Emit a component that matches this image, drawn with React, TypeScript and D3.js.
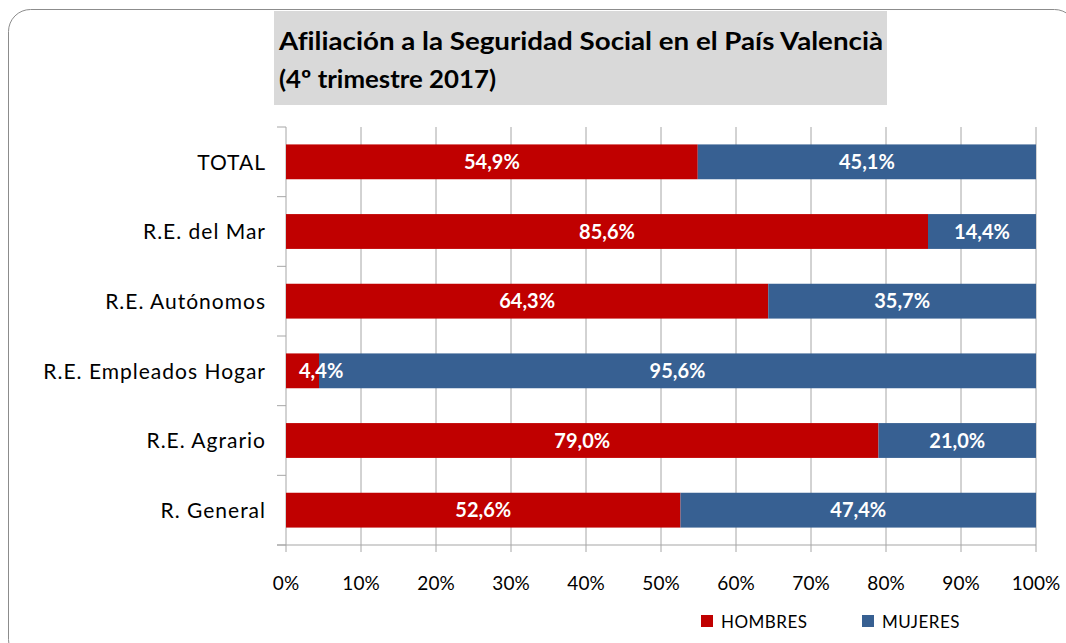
import React from "react";
import * as d3 from "d3";

const categories = ["TOTAL", "R.E. del Mar", "R.E. Autónomos", "R.E. Empleados Hogar", "R.E. Agrario", "R. General"];
const hombres = [54.9, 85.6, 64.3, 4.4, 79.0, 52.6];
const mujeres = [45.1, 14.4, 35.7, 95.6, 21.0, 47.4];
const xTicks = [0, 10, 20, 30, 40, 50, 60, 70, 80, 90, 100];
const seriesNames = ["HOMBRES", "MUJERES"];
const titleLines = ["Afiliación a la Seguridad Social en el País Valencià", "(4º trimestre 2017)"];

const RED = "#c00000";
const BLUE = "#376092";
const GRID = "#a6a6a6";
const FONT = "Lato, 'Open Sans', sans-serif";

const fmt = (v: number) => v.toFixed(1).replace(".", ",") + "%";

export default function App() {
  const W = 1066, H = 643;
  const left = 286, right = 1036, top = 127, bottom = 545;
  const x = d3.scaleLinear().domain([0, 100]).range([left, right]);
  const y = d3.scaleBand<string>().domain(categories).range([top, bottom]).paddingInner(0.5).paddingOuter(0.25);
  const step = y.step();
  const boundaries = d3.range(categories.length + 1).map((i) => top + i * step);
  const titleWidths = [604, 217];

  return (
    <svg width={W} height={H} style={{ position: "absolute", left: 0, top: 0, background: "#fff", fontVariantLigatures: "none" }}>
      <rect x={8.5} y={9.5} width={1068} height={652} rx={22} ry={22} fill="#fff" stroke="#8c8c8c" strokeWidth={1} />
      <rect x={274} y={11} width={613} height={94} fill="#d9d9d9" />
      {titleLines.map((t, i) => (
        <text key={i} x={279} y={50 + i * 38} fontFamily={FONT} fontWeight="bold" fontSize={25} fill="#000"
          textLength={titleWidths[i]} lengthAdjust="spacingAndGlyphs">{t}</text>
      ))}
      {/* gridlines */}
      {xTicks.map((t) => (
        <line key={t} x1={x(t)} x2={x(t)} y1={top} y2={bottom + 7} stroke={GRID} strokeWidth={1} />
      ))}
      {/* y axis ticks */}
      {boundaries.map((b, i) => (
        <line key={i} x1={left - 9} x2={left} y1={b} y2={b} stroke={GRID} strokeWidth={1} />
      ))}
      <line x1={left - 9} x2={right} y1={bottom} y2={bottom} stroke={GRID} strokeWidth={1.2} />
      {/* bars */}
      {categories.map((c, i) => {
        const y0 = y(c)!;
        const bw = y.bandwidth();
        const xh = x(hombres[i]);
        return (
          <g key={c}>
            <rect x={x(0)} y={y0} width={xh - x(0)} height={bw} fill={RED} />
            <rect x={xh} y={y0} width={x(100) - xh} height={bw} fill={BLUE} />
          </g>
        );
      })}
      {/* labels */}
      {categories.map((c, i) => {
        const cy = y(c)! + y.bandwidth() / 2;
        const xh = x(hombres[i]);
        const hx = hombres[i] < 10 ? x(0) + 13 : (x(0) + xh) / 2;
        return (
          <g key={c} fontFamily={FONT} fontWeight="bold" fontSize={20} fill="#fff">
            <text x={hx} y={cy} dy="0.36em" textAnchor={hombres[i] < 10 ? "start" : "middle"}>{fmt(hombres[i])}</text>
            <text x={(xh + x(100)) / 2} y={cy} dy="0.36em" textAnchor="middle">{fmt(mujeres[i])}</text>
          </g>
        );
      })}
      {/* category labels */}
      {categories.map((c) => (
        <text key={c} x={266} y={y(c)! + y.bandwidth() / 2} dy="0.37em" textAnchor="end" fontFamily={FONT} fontSize={21} letterSpacing={1.0} fill="#000">{c}</text>
      ))}
      {/* x tick labels */}
      {xTicks.map((t) => (
        <text key={t} x={x(t)} y={590} textAnchor="middle" fontFamily={FONT} fontSize={19} fill="#000">{t}%</text>
      ))}
      {/* legend */}
      {seriesNames.map((s, i) => {
        const lx = [701, 862][i];
        return (
          <g key={s}>
            <rect x={lx} y={615} width={12} height={12} fill={i === 0 ? RED : BLUE} />
            <text x={lx + 20} y={628} fontFamily={FONT} fontSize={17} letterSpacing={0.5} fill="#000">{s}</text>
          </g>
        );
      })}
    </svg>
  );
}
